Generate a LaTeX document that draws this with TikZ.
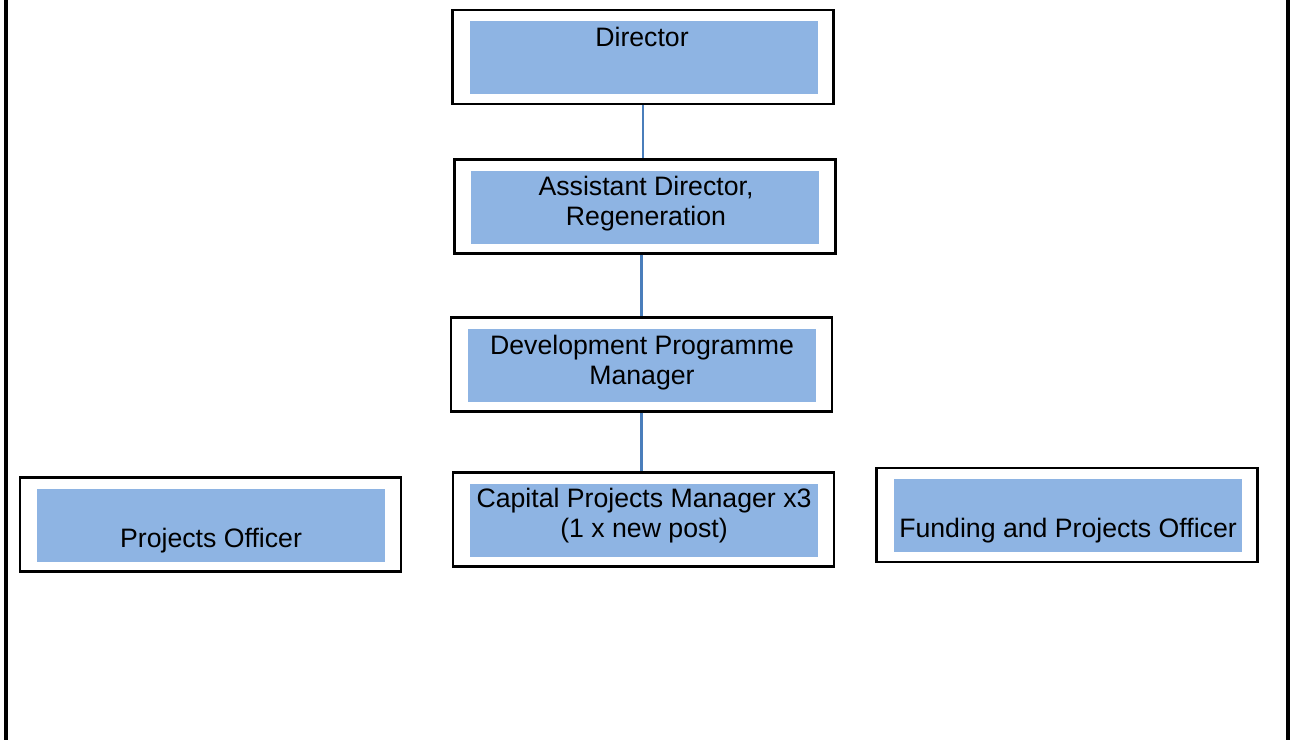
\documentclass[tikz,border=0pt]{standalone}
\usepackage{fontspec}
\setmainfont{Liberation Sans}
\usetikzlibrary{positioning}

\definecolor{postblue}{HTML}{8EB4E3}
\definecolor{linkblue}{HTML}{4A7EBB}

\tikzset{
  post/.style={draw=black, line width=1.6pt, fill=white, minimum width=285.75pt, minimum height=70.5pt, inner sep=0pt},
  postfill/.style={fill=postblue, minimum width=261pt, minimum height=54.75pt, inner sep=0pt},
  posttext/.style={font=\fontsize{20}{22.5}\selectfont, align=center, inner sep=0pt, anchor=base},
  link/.style={draw=linkblue, line width=1.6pt}
}

\begin{document}
\begin{tikzpicture}[x=0.75pt,y=-0.75pt]
\useasboundingbox (0,0) rectangle (1293,740);

\draw[line width=2.4pt] (6,0) -- (6,740);%le cadre
\draw[line width=2.4pt] (1288,0) -- (1288,740);

\node[post] (dir) at (643,57) {};
\node[postfill] (dirbox) at (644,57.5) {};
\node[posttext] (dirtext) at (642,46) {Director};

\node[post] (ast) at (645,206.5) {};
\node[postfill] (astbox) at (645,207) {};
\node[posttext] (asttext) at (646,225) {Assistant Director,\\Regeneration};%base = 2e ligne

\node[post] (dev) at (641.5,364.5) {};
\node[postfill] (devbox) at (642,365.5) {};
\node[posttext] (devtext) at (642,384) {Development Programme\\Manager};

\node[post] (cap) at (643.5,519.5) {};
\node[postfill] (capbox) at (644,520) {};
\node[posttext] (captext) at (644,537) {Capital Projects Manager x3\\(1 x new post)};

\node[post] (po) at (210.5,524.5) {};
\node[postfill] (pobox) at (211,525) {};
\node[posttext] (potext) at (211,547) {Projects Officer};

\node[post] (fpo) at (1067,515) {};
\node[postfill] (fpobox) at (1068,515.5) {};
\node[posttext] (fpotext) at (1068,537) {Funding and Projects Officer};

%les liens
\draw[link] (dir.south) -- (dir.south |- ast.north);
\draw[link] (dev.north |- ast.south) -- (dev.north);
\draw[link] (dev.south) -- (dev.south |- cap.north);

\end{tikzpicture}
\end{document}
